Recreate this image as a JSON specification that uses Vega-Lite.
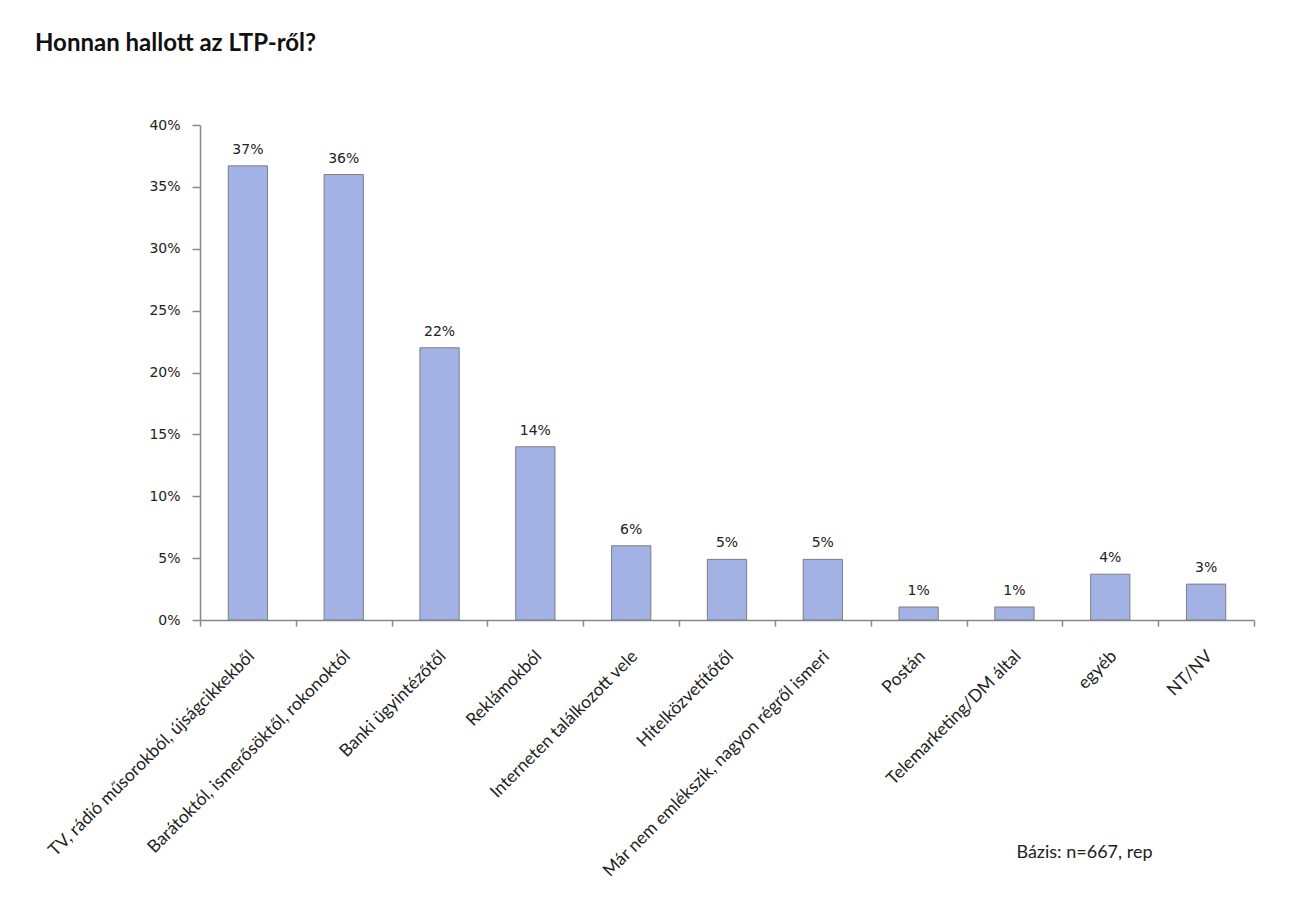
{
  "$schema": "https://vega.github.io/schema/vega-lite/v6.json",
  "width": 1054,
  "height": 495,
  "autosize": "none",
  "padding": {"left": 200, "top": 125, "right": 39, "bottom": 300},
  "background": "white",
  "title": {
    "text": "Honnan hallott az LTP-ről?",
    "anchor": "start",
    "frame": "group",
    "dx": -165,
    "offset": 62,
    "font": "Lato",
    "fontSize": 24,
    "fontWeight": "bold",
    "color": "#111111"
  },
  "data": {
    "values": [
      {"forras": "TV, rádió műsorokból, újságcikkekből", "arany": 0.367},
      {"forras": "Barátoktól, ismerősöktől, rokonoktól", "arany": 0.360},
      {"forras": "Banki ügyintézőtől", "arany": 0.220},
      {"forras": "Reklámokból", "arany": 0.140},
      {"forras": "Interneten találkozott vele", "arany": 0.060},
      {"forras": "Hitelközvetítőtől", "arany": 0.049},
      {"forras": "Már nem emlékszik, nagyon régről ismeri", "arany": 0.049},
      {"forras": "Postán", "arany": 0.0105},
      {"forras": "Telemarketing/DM által", "arany": 0.0105},
      {"forras": "egyéb", "arany": 0.037},
      {"forras": "NT/NV", "arany": 0.029}
    ]
  },
  "encoding": {
    "x": {
      "field": "forras",
      "type": "nominal",
      "sort": null,
      "scale": {"paddingInner": 0, "paddingOuter": 0},
      "axis": {
        "title": "Bázis: n=667, rep",
        "titleX": 952,
        "titleY": 232,
        "titleAlign": "right",
        "titleBaseline": "middle",
        "titleFont": "Lato",
        "titleFontSize": 18,
        "titleFontWeight": "normal",
        "titleColor": "#222222",
        "labelAngle": -45,
        "labelFont": "Lato",
        "labelFontSize": 17.5,
        "labelColor": "#222222",
        "labelPadding": 21,
        "labelOffset": -3,
        "labelLimit": 400,
        "tickBand": "extent",
        "tickSize": 6,
        "tickColor": "#888888",
        "domainColor": "#888888",
        "domainWidth": 1.5,
        "tickWidth": 1.5
      }
    },
    "y": {
      "field": "arany",
      "type": "quantitative",
      "scale": {"domain": [0, 0.4], "nice": false},
      "axis": {
        "title": null,
        "values": [0, 0.05, 0.1, 0.15, 0.2, 0.25, 0.3, 0.35, 0.4],
        "format": ".0%",
        "grid": false,
        "labelFont": "DejaVu Sans",
        "labelFontSize": 14,
        "labelColor": "#222222",
        "labelPadding": 12,
        "tickSize": 8,
        "tickColor": "#888888",
        "domainColor": "#888888",
        "domainWidth": 1.5,
        "tickWidth": 1.5
      }
    }
  },
  "layer": [
    {
      "mark": {
        "type": "bar",
        "width": {"band": 0.41},
        "fill": "#a2b2e4",
        "stroke": "#7f7f7f",
        "strokeWidth": 1
      }
    },
    {
      "mark": {
        "type": "text",
        "baseline": "bottom",
        "dy": -9,
        "font": "DejaVu Sans",
        "fontSize": 14,
        "color": "#222222"
      },
      "encoding": {
        "text": {"field": "arany", "type": "quantitative", "format": ".0%"}
      }
    }
  ],
  "config": {
    "view": {"stroke": null}
  }
}
